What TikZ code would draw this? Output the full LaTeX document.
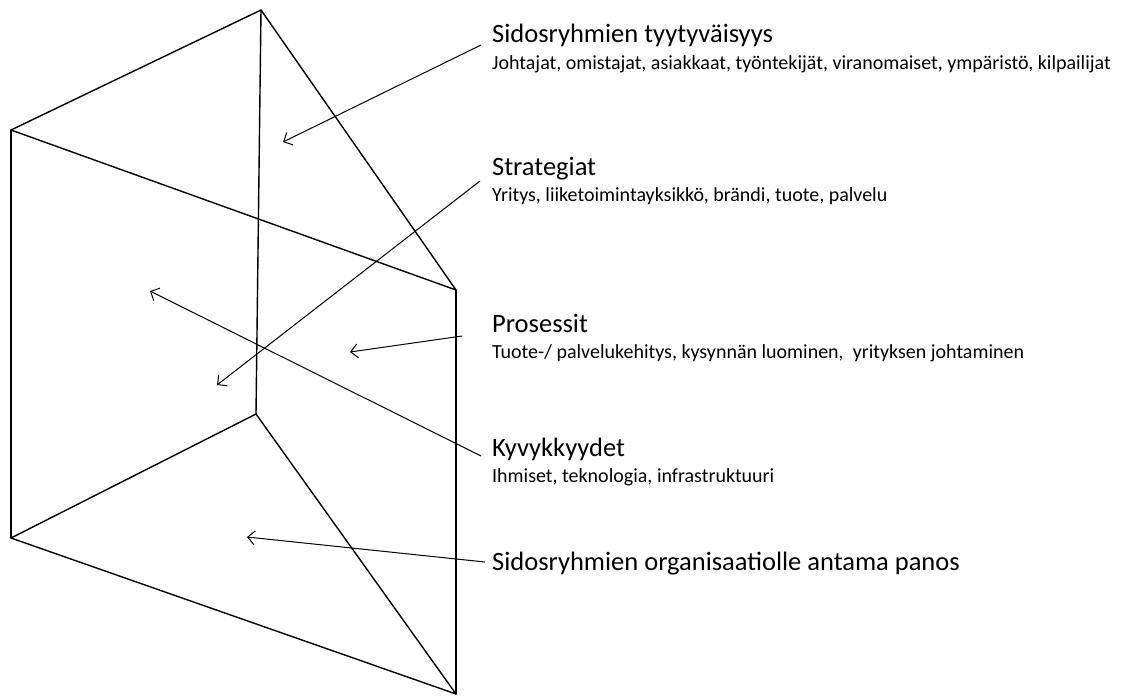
\documentclass[tikz,border=0pt]{standalone}
\usepackage{fontspec}
\setmainfont{Carlito}
\usetikzlibrary{arrows.meta}
\begin{document}
\begin{tikzpicture}[x=1pt,y=-1pt,
  edge/.style={line width=1.4pt,line join=round,line cap=round},
  pointer/.style={line width=1pt,-{Straight Barb[length=7pt,width=14pt,line width=1pt]}},
  heading/.style={anchor=base west,inner sep=0pt,font=\fontsize{26.5}{30}\selectfont},
  detail/.style={anchor=base west,inner sep=0pt,font=\fontsize{20}{24}\selectfont}]
\useasboundingbox (0,0) rectangle (1126,697);
% prism corners
\coordinate (A) at (11,130);
\coordinate (B) at (261,10);
\coordinate (C) at (456,290);
\coordinate (D) at (11,538);
\coordinate (E) at (256,414);
\coordinate (F) at (456,694);
% prism edges
\draw[edge] (A) -- (B) -- (C) -- cycle;
\draw[edge] (D) -- (E) -- (F) -- cycle;
\draw[edge] (A) -- (D);
\draw[edge] (B) -- (E);
\draw[edge] (C) -- (F);
% labels
\node[heading] (h1) at (492,42) {Sidosryhmien tyytyväisyys};
\node[detail]  (d1) at (492,69) {Johtajat, omistajat, asiakkaat, työntekijät, viranomaiset, ympäristö, kilpailijat};
\node[heading] (h2) at (492,175) {Strategiat};
\node[detail]  (d2) at (492,201) {Yritys, liiketoimintayksikkö, brändi, tuote, palvelu};
\node[heading] (h3) at (492,332) {Prosessit};
\node[detail]  (d3) at (492,358) {Tuote-/ palvelukehitys, kysynnän luominen,\ \ yrityksen johtaminen};
\node[heading] (h4) at (492,456) {Kyvykkyydet};
\node[detail]  (d4) at (492,482) {Ihmiset, teknologia, infrastruktuuri};
\node[heading] (h5) at (492,570) {Sidosryhmien organisaatiolle antama panos};
% arrow tips on the faces
\coordinate (t1) at (283,142);
\coordinate (t2) at (217,385);
\coordinate (t3) at (350,352);
\coordinate (t4) at (150,291);
\coordinate (t5) at (247,537);
\coordinate (s1) at (481,45);
\coordinate (s2) at (480,181);
\coordinate (s3) at (462,336);
\coordinate (s4) at (481,456);
\coordinate (s5) at (485,562);
\draw[pointer] (s1) -- (t1);
\draw[pointer] (s2) -- (t2);
\draw[pointer] (s3) -- (t3);
\draw[pointer] (s4) -- (t4);
\draw[pointer] (s5) -- (t5);
\end{tikzpicture}
\end{document}
